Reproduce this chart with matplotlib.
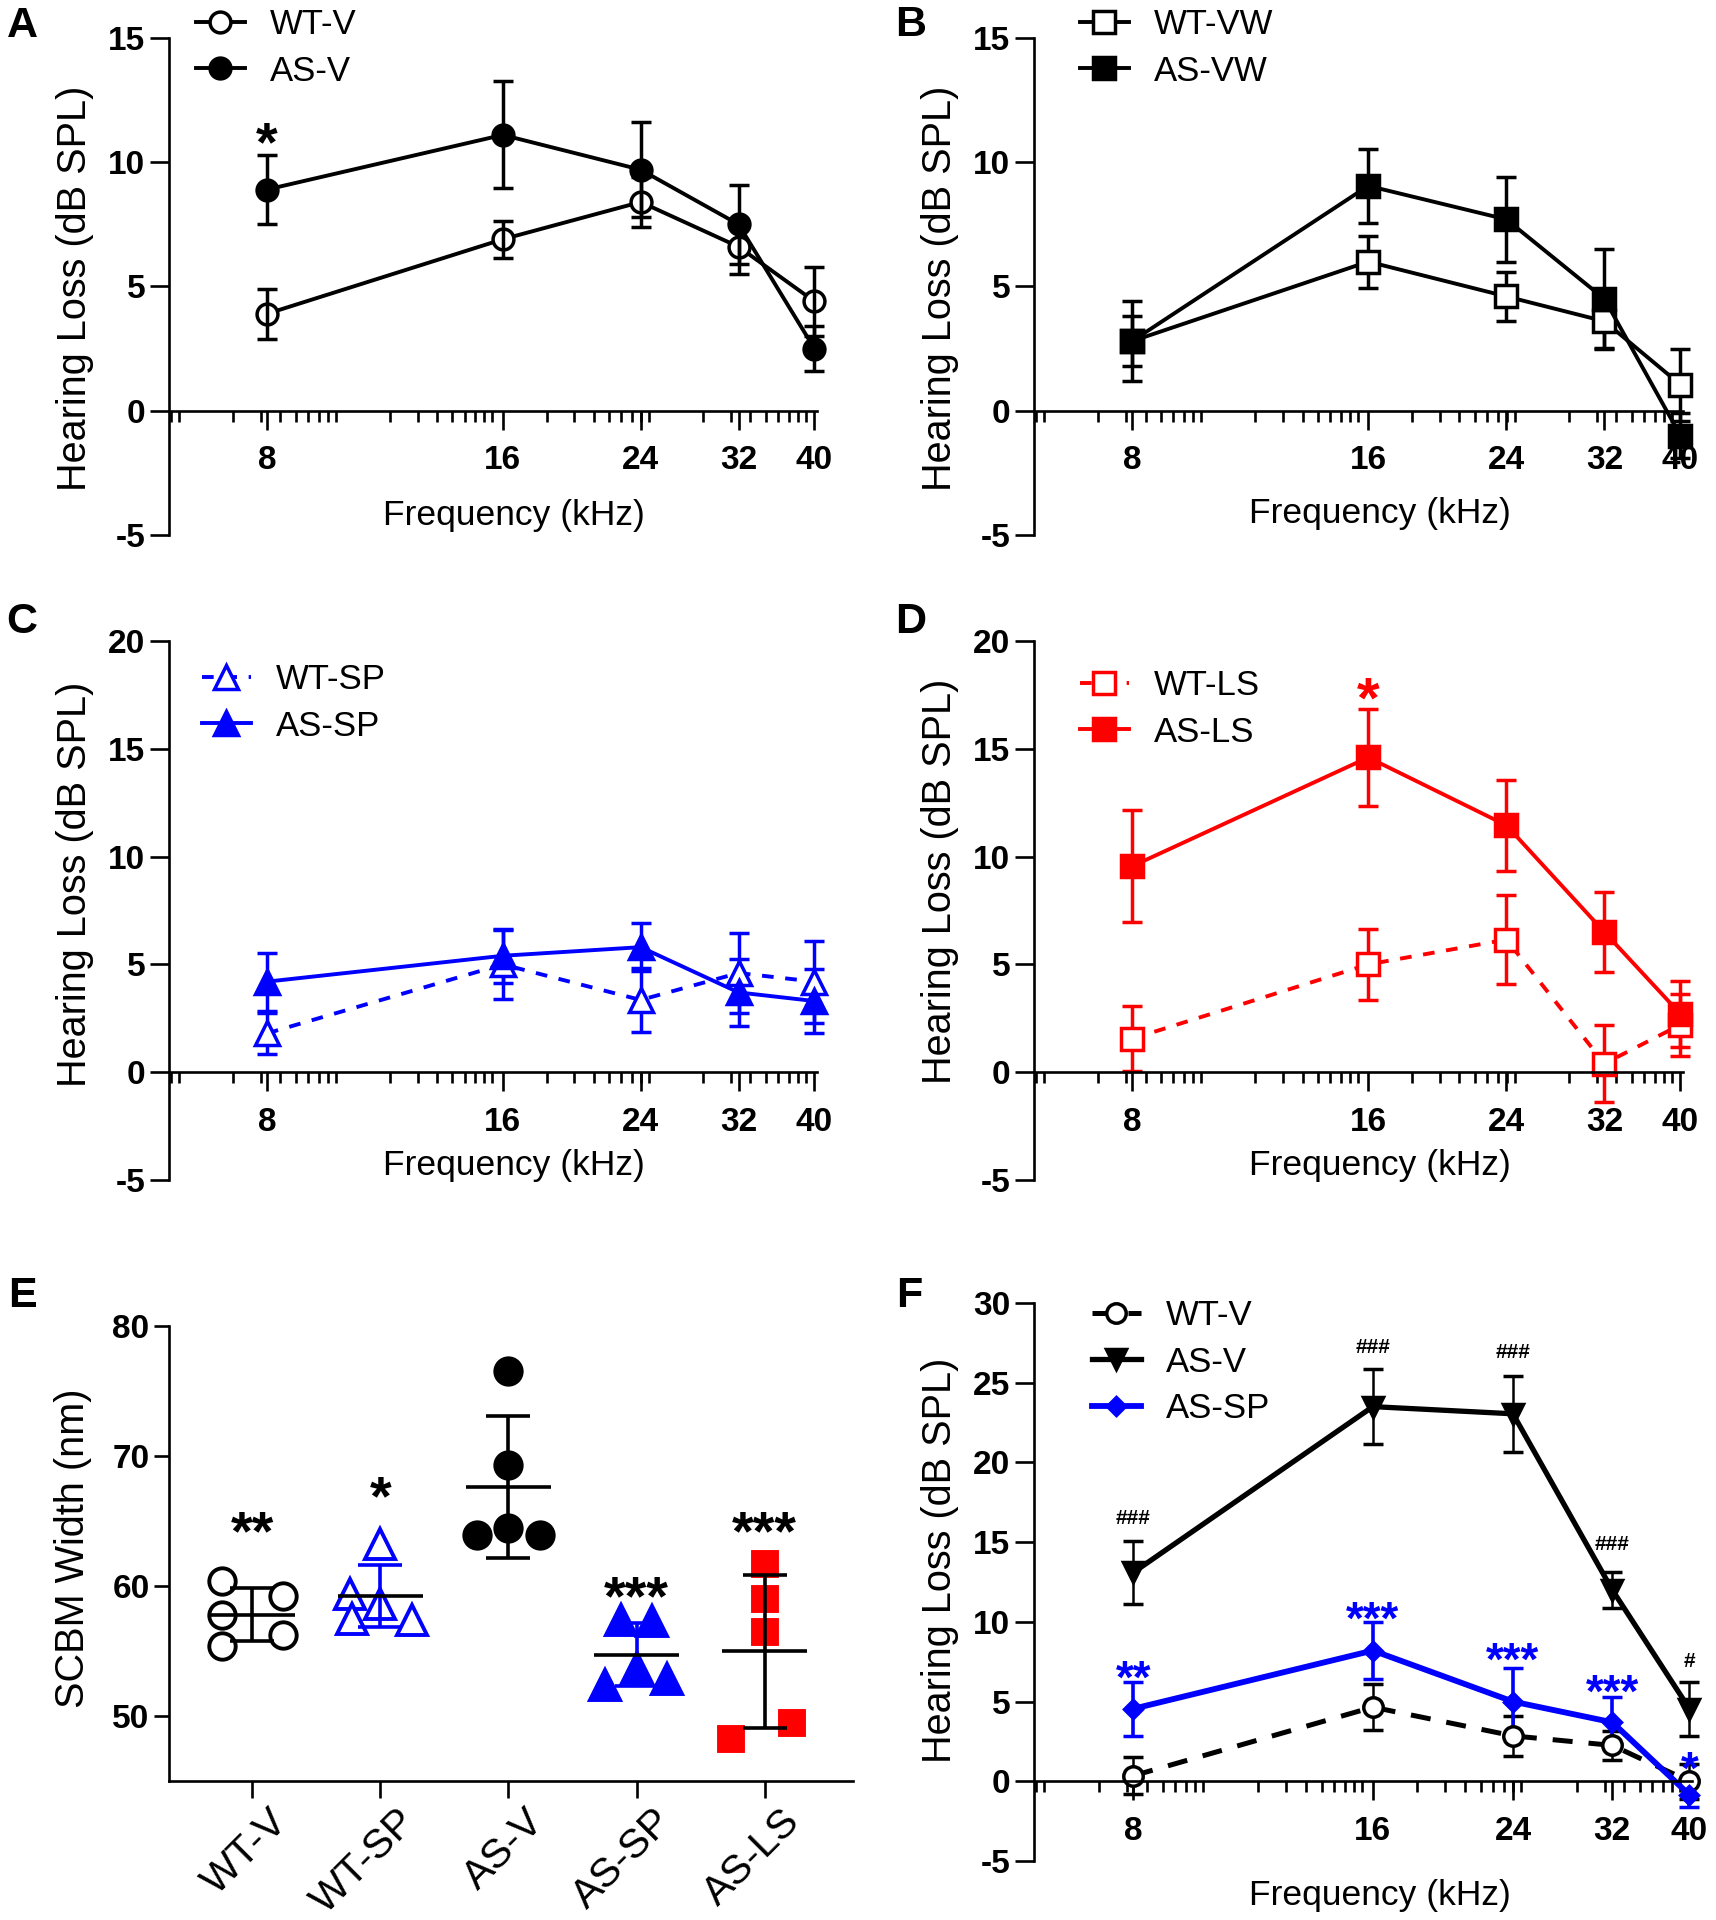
import numpy as np
import matplotlib
matplotlib.use("Agg")
import matplotlib.pyplot as plt
from matplotlib.ticker import NullFormatter
from matplotlib.transforms import ScaledTranslation

W, H = 1716, 1920
plt.rcParams['font.family'] = ['Liberation Sans', 'DejaVu Sans']
BLUE = '#0000ff'
RED = '#ff0000'

# ---- data ----
freqs = [8, 16, 24, 32, 40]

# A: vehicle
a_wt_v = [3.9, 6.9, 8.4, 6.6, 4.4]
a_wt_v_err = [1.0, 0.75, 1.0, 1.1, 1.4]
a_as_v = [8.9, 11.1, 9.7, 7.5, 2.5]
a_as_v_err = [1.4, 2.15, 1.9, 1.6, 0.9]

# B: vehicle water
b_wt_vw = [2.8, 6.0, 4.6, 3.6, 1.05]
b_wt_vw_err = [1.0, 1.05, 1.0, 1.07, 1.45]
b_as_vw = [2.8, 9.05, 7.7, 4.5, -1.0]
b_as_vw_err = [1.6, 1.5, 1.7, 2.0, 0.9]

# C: SP
c_wt_sp = [1.8, 5.0, 3.35, 4.6, 4.2]
c_wt_sp_err = [0.95, 1.6, 1.5, 1.85, 1.9]
c_as_sp = [4.2, 5.4, 5.8, 3.7, 3.3]
c_as_sp_err = [1.35, 1.25, 1.1, 1.55, 1.5]

# D: LS
d_wt_ls = [1.55, 5.0, 6.15, 0.4, 2.2]
d_wt_ls_err = [1.5, 1.65, 2.05, 1.8, 1.45]
d_as_ls = [9.55, 14.6, 11.45, 6.5, 2.7]
d_as_ls_err = [2.6, 2.25, 2.1, 1.85, 1.55]

# E: SCBM width, individual animals
e_groups = ['WT-V', 'WT-SP', 'AS-V', 'AS-SP', 'AS-LS']
e_wt_v = [60.4, 59.2, 57.8, 55.35, 56.25]
e_wt_sp = [59.35, 63.2, 57.5, 58.6, 57.4]
e_as_v = [76.55, 69.3, 63.95, 64.5, 63.95]
e_as_sp = [57.35, 57.3, 53.7, 52.35, 52.85]
e_as_ls = [61.7, 59.0, 56.5, 48.25, 49.5]
e_stars = ['**', '*', '', '***', '***']
e_star_y = [65.2, 67.9, 0, 60.2, 65.2]

# F: later time point
f_wt_v = [0.35, 4.65, 2.85, 2.25, 0.0]
f_wt_v_err = [1.15, 1.45, 1.25, 0.9, 1.1]
f_as_v = [13.1, 23.5, 23.05, 12.0, 4.55]
f_as_v_err = [2.0, 2.35, 2.4, 1.1, 1.7]
f_as_sp = [4.55, 8.2, 5.0, 3.7, -0.85]
f_as_sp_err = [1.7, 1.8, 2.1, 1.6, 0.75]
f_hash = ['###', '###', '###', '###', '#']
f_hash_y = [16.6, 27.3, 27.0, 15.0, 7.6]
f_stars = ['**', '***', '***', '***', '*']
f_star_y = [7.2, 10.9, 8.3, 6.3, 1.5]

fig = plt.figure(figsize=(W / 100, H / 100), dpi=100)


def add_axes(box):
    l, t, r, b = box
    ax = fig.add_axes([l / W, 1 - b / H, (r - l) / W, (b - t) / H])
    ax.box_px = box
    return ax


def frac(ax, x, y):
    l, t, r, b = ax.box_px
    return (x - l) / (r - l), (b - y) / (b - t)


def base_style(ax, yticks, ylabel, ylab_px, ylen=14):
    for s in ['top', 'right']:
        ax.spines[s].set_visible(False)
    for s in ['left', 'bottom']:
        ax.spines[s].set_linewidth(1.9)
    ax.set_ylim(yticks[0], yticks[-1])
    ax.set_yticks(yticks, [str(v) for v in yticks], fontweight='bold', fontsize=24)
    ax.tick_params(axis='y', length=ylen, width=1.9, pad=3)
    ax.set_ylabel(ylabel, fontsize=28.5)
    ax.yaxis.label.set_va('center')
    ax.yaxis.set_label_coords(*frac(ax, *ylab_px))


def freq_axis(ax, xlab_px):
    ax.set_xscale('log')
    ax.set_xlim(6, 40.3)
    ax.spines['bottom'].set_position(('data', 0))
    ax.set_xticks(freqs, [str(f) for f in freqs], fontweight='bold', fontsize=24)
    minor = [10 * (m * 10.0 ** n) ** 0.2 for n in range(-2, 3) for m in range(2, 10)]
    ax.set_xticks([f for f in minor if 6 <= f <= 40.3], minor=True)
    ax.xaxis.set_minor_formatter(NullFormatter())
    ax.tick_params(axis='x', which='major', length=14, width=1.9, pad=11)
    ax.tick_params(axis='x', which='minor', length=8, width=1.9)
    ax.set_xlabel('Frequency (kHz)', fontsize=25.5)
    ax.xaxis.label.set_va('center')
    ax.xaxis.set_label_coords(*frac(ax, *xlab_px))


def series(ax, y, err, color, marker, ms, mfc, dashes=None, lw=2.8,
           elw=2.5, barsabove=False):
    eb = ax.errorbar(freqs, y, yerr=err, color=color, marker=marker, ms=ms,
                     mfc=mfc, mec=color, mew=2.5, lw=lw, elinewidth=elw,
                     capsize=7, capthick=elw, barsabove=barsabove, clip_on=False)
    if dashes:
        eb[0].set_dashes(dashes)
    return eb[0]


def key(ax, handles, labels, x, y):
    ax.legend(handles, labels, loc='center left', bbox_to_anchor=(x / W, 1 - y / H),
              bbox_transform=fig.transFigure, frameon=False, fontsize=25,
              handlelength=1.41, handletextpad=0.72, labelspacing=0.38,
              borderpad=0, borderaxespad=0)


def mark(ax, x, y, s, color='black', size=36, shift=0.31, weight='bold'):
    ax.annotate(s, (x, y), xytext=(0, -shift * size), textcoords='offset points',
                ha='center', va='center', fontsize=size, fontweight=weight,
                color=color, annotation_clip=False)


def letter(x, y, s):
    fig.text(x / W, 1 - y / H, s, fontsize=31, fontweight='bold',
             ha='center', va='center')


# ---- A ----
ax = add_axes((169, 38, 817, 535))
base_style(ax, [-5, 0, 5, 10, 15], 'Hearing Loss (dB SPL)', (75, 288))
freq_axis(ax, (514, 516))
h1 = series(ax, a_wt_v, a_wt_v_err, 'black', 'o', 15, 'white', barsabove=True)
h2 = series(ax, a_as_v, a_as_v_err, 'black', 'o', 15, 'black')
mark(ax, 8, 11.35, '*', size=40)
key(ax, [h1, h2], ['WT-V', 'AS-V'], 196, 48)
letter(22, 26, 'A')

# ---- B ----
ax = add_axes((1034, 38, 1683, 535))
base_style(ax, [-5, 0, 5, 10, 15], 'Hearing Loss (dB SPL)', (940, 288))
freq_axis(ax, (1380, 514))
h1 = series(ax, b_wt_vw, b_wt_vw_err, 'black', 's', 16.5, 'white')
h2 = series(ax, b_as_vw, b_as_vw_err, 'black', 's', 16.5, 'black')
key(ax, [h1, h2], ['WT-VW', 'AS-VW'], 1080, 48)
letter(911, 25, 'B')

# ---- C ----
ax = add_axes((169, 641, 817, 1180))
base_style(ax, [-5, 0, 5, 10, 15, 20], 'Hearing Loss (dB SPL)', (75, 884))
freq_axis(ax, (514, 1166))
h1 = series(ax, c_wt_sp, c_wt_sp_err, BLUE, '^', 17, 'white', dashes=(3.0, 3.0))
h2 = series(ax, c_as_sp, c_as_sp_err, BLUE, '^', 17, BLUE)
key(ax, [h1, h2], ['WT-SP', 'AS-SP'], 202, 703)
letter(22, 622, 'C')

# ---- D ----
ax = add_axes((1034, 641, 1683, 1180))
base_style(ax, [-5, 0, 5, 10, 15, 20], 'Hearing Loss (dB SPL)', (940, 881))
freq_axis(ax, (1380, 1166))
h1 = series(ax, d_wt_ls, d_wt_ls_err, RED, 's', 16.5, 'white', dashes=(3.0, 3.0))
h2 = series(ax, d_as_ls, d_as_ls_err, RED, 's', 16.5, RED)
mark(ax, 16, 18.0, '*', color=RED, size=42)
key(ax, [h1, h2], ['WT-LS', 'AS-LS'], 1080, 709)
letter(911, 622, 'D')

# ---- E ----
ax = add_axes((169, 1326, 853, 1781))
base_style(ax, [50, 60, 70, 80], 'SCBM Width (nm)', (73, 1548), ylen=11)
ax.set_ylim(45, 80)
ax.set_xlim(-0.65, 4.69)
e_sets = [e_wt_v, e_wt_sp, e_as_v, e_as_sp, e_as_ls]
e_offsets = [[-0.24, 0.24, -0.24, -0.24, 0.24],
             [-0.24, 0.0, -0.22, 0.0, 0.245],
             [0.0, 0.0, -0.245, 0.0, 0.245],
             [-0.124, 0.12, 0.0, -0.245, 0.236],
             [0.0, 0.0, 0.0, -0.266, 0.215]]
e_marker = [dict(marker='o', ms=19, mfc='white', mec='black'),
            dict(marker='^', ms=21, mfc='white', mec=BLUE),
            dict(marker='o', ms=19, mfc='black', mec='black'),
            dict(marker='^', ms=21, mfc=BLUE, mec=BLUE),
            dict(marker='s', ms=17, mfc=RED, mec=RED)]
e_barcolor = ['black', BLUE, 'black', BLUE, 'black']
for i, vals in enumerate(e_sets):
    ax.plot(i + np.array(e_offsets[i]), vals, ls='none', mew=2.8, clip_on=False,
            **e_marker[i])
    m, sd = np.mean(vals), np.std(vals, ddof=1)
    ax.errorbar(i, m, yerr=sd, fmt='none', ecolor=e_barcolor[i], elinewidth=2.6,
                capsize=16, capthick=2.6, zorder=4)
    ax.hlines(m, i - 0.33, i + 0.33, color='black', lw=2.6, zorder=4)
    if e_stars[i]:
        mark(ax, i, e_star_y[i], e_stars[i], size=40)
ax.set_xticks(range(len(e_groups)), e_groups, rotation=45, ha='right',
              rotation_mode='anchor', va='center', fontsize=29.5)
ax.tick_params(axis='x', length=12, width=1.9, pad=0)
for lab in ax.get_xticklabels():
    lab.set_transform(lab.get_transform() + ScaledTranslation(21 / 72, -13 / 72, fig.dpi_scale_trans))
letter(22, 1296, 'E')

# ---- F ----
ax = add_axes((1034, 1303, 1692, 1861))
base_style(ax, [-5, 0, 5, 10, 15, 20, 25, 30], 'Hearing Loss (dB SPL)', (940, 1560))
freq_axis(ax, (1380, 1895))
h1 = series(ax, f_wt_v, f_wt_v_err, 'black', 'o', 14, 'white',
            dashes=(4.0, 3.2), lw=3.6, elw=1.8)
h2 = series(ax, f_as_v, f_as_v_err, 'black', 'v', 14, 'black', lw=3.8, elw=1.8)
h3 = series(ax, f_as_sp, f_as_sp_err, BLUE, 'D', 9, BLUE, lw=4.2, elw=2.6)
for x, yv, s in zip(freqs, f_hash_y, f_hash):
    mark(ax, x, yv, s, size=15, shift=0.09)
for x, yv, s in zip(freqs, f_star_y, f_stars):
    mark(ax, x, yv, s, color=BLUE, size=33)
key(ax, [h1, h2, h3], ['WT-V', 'AS-V', 'AS-SP'], 1092, 1362)
letter(909, 1296, 'F')

fig.savefig('out.png', dpi=100)
